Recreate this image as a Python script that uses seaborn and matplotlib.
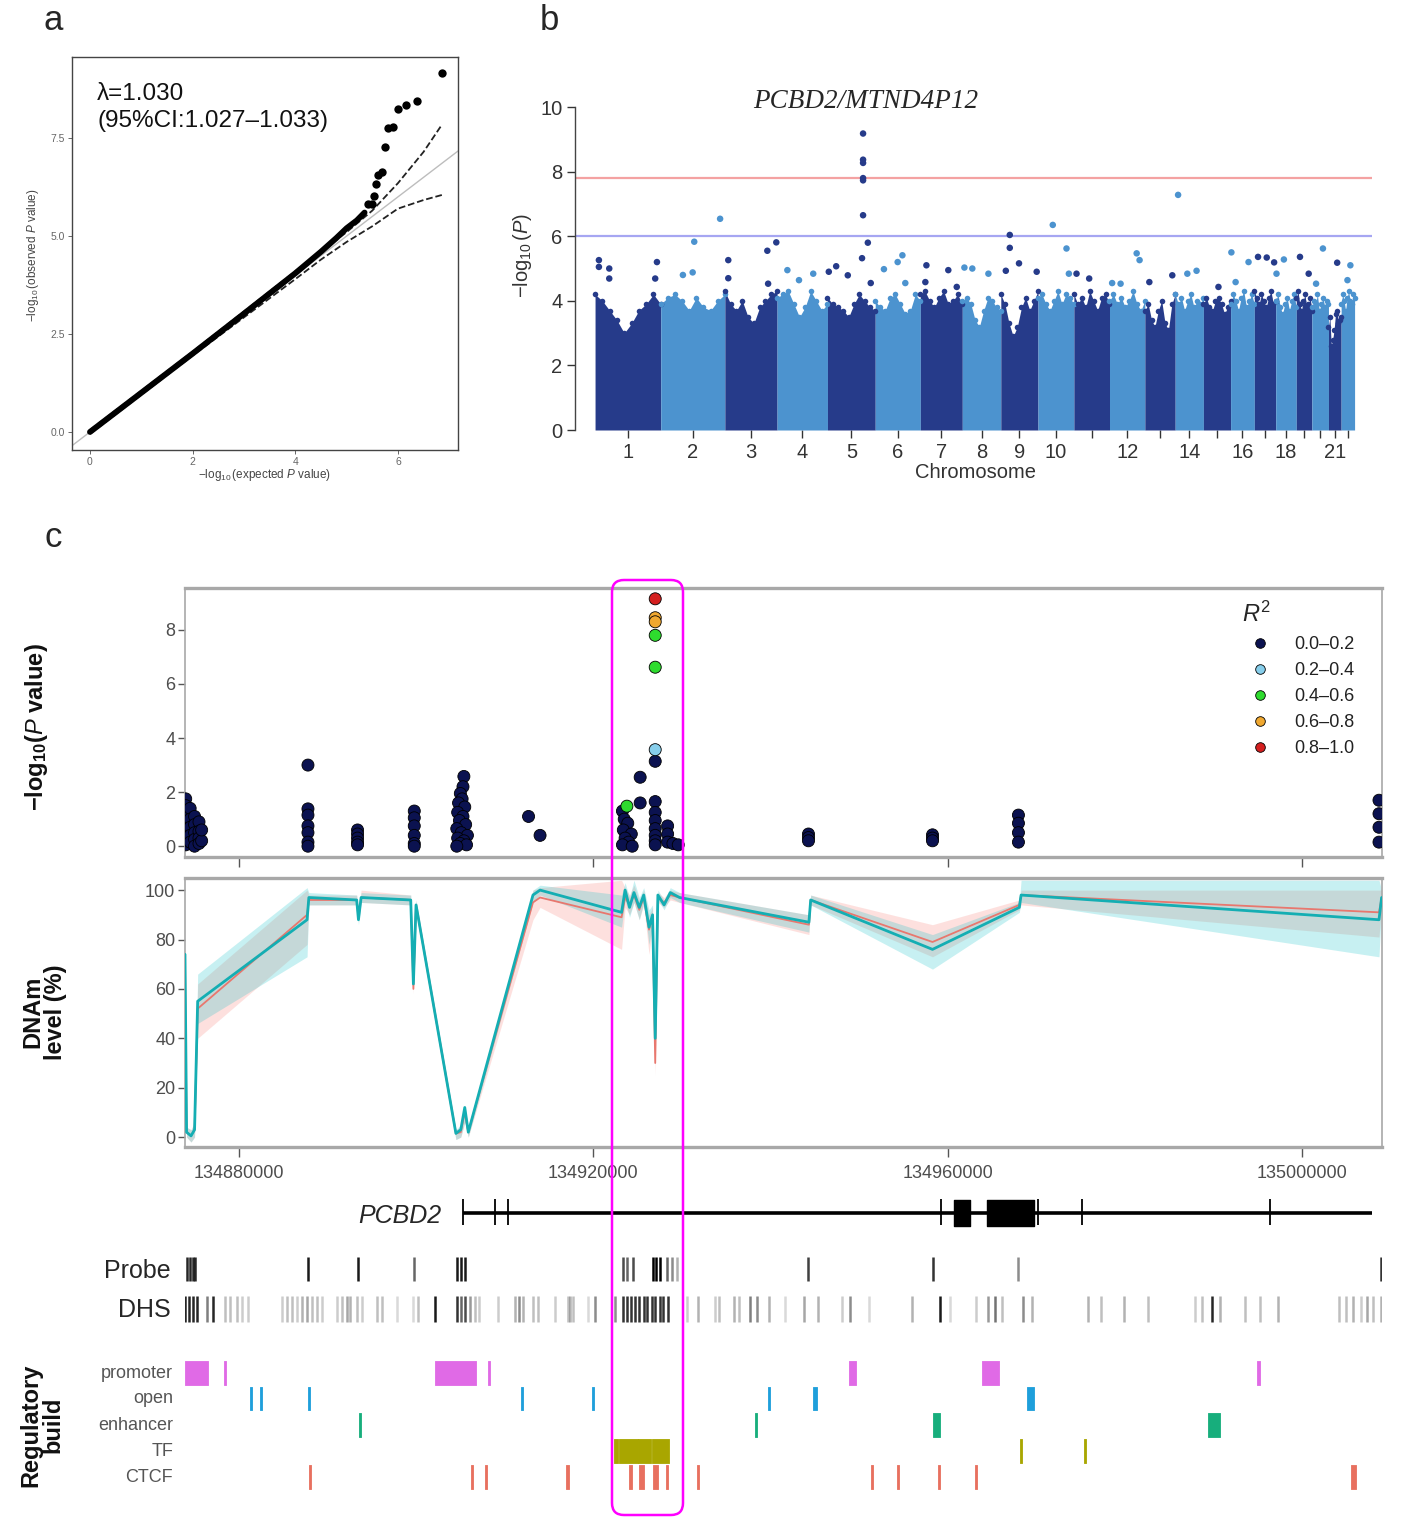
import matplotlib
matplotlib.use("Agg")
import numpy as np
import pandas as pd
import seaborn as sns
import matplotlib.pyplot as plt
from matplotlib.patches import FancyBboxPatch

# ---------------- DATA ----------------
# panel a: QQ plot
qq_body_exp = [0, 1, 2, 3, 4, 4.5, 4.8, 5.0, 5.2, 5.35]
qq_body_obs = [0, 1.0, 2.0, 3.02, 4.05, 4.6, 4.95, 5.2, 5.4, 5.6]
qq_tail_exp = [5.42, 5.49, 5.54, 5.58, 5.62, 5.68, 5.75, 5.81, 5.90, 6.01, 6.16, 6.38, 6.86]
qq_tail_obs = [5.81, 5.82, 6.01, 6.33, 6.55, 6.63, 7.27, 7.76, 7.78, 8.24, 8.35, 8.44, 9.15]
ci_exp = [0, 2, 4, 4.5, 5, 5.5, 6, 6.5, 6.86]
ci_upper = [0.05, 2.05, 4.1, 4.6, 5.1, 5.65, 6.35, 7.15, 7.85]
ci_lower = [-0.05, 1.95, 3.9, 4.4, 4.85, 5.25, 5.7, 5.92, 6.05]
lambda_text = "λ=1.030\n(95%CI:1.027–1.033)"

# panel b: Manhattan
chrom_len_mb = [249, 243, 198, 191, 181, 171, 159, 146, 141, 136, 135, 134,
                115, 107, 103, 90, 81, 78, 59, 63, 48, 51]
chrom_shown = ["1", "2", "3", "4", "5", "6", "7", "8", "9", "10", "", "12",
               "", "14", "", "16", "", "18", "", "", "21", ""]
dense_top_by_chrom = [
    [4.2, 4.0, 3.7, 3.4, 3.0, 3.3, 3.7, 3.9, 4.2, 3.9],
    [3.9, 4.1, 4.2, 4.0, 3.7, 4.1, 3.8, 3.7, 4.0, 4.2],
    [4.3, 3.9, 3.7, 4.0, 3.5, 3.3, 3.8, 4.0, 4.2, 4.3],
    [4.1, 4.2, 4.3, 3.9, 3.5, 3.8, 4.3, 4.0, 3.7, 3.9],
    [4.1, 3.9, 3.8, 3.7, 3.5, 3.9, 4.2, 4.0, 3.8, 3.7],
    [4.0, 3.8, 3.7, 4.1, 4.2, 3.9, 3.6, 3.7, 4.2, 4.0],
    [4.2, 4.3, 4.0, 3.8, 4.1, 4.3, 3.9, 4.0, 4.2, 3.9],
    [4.0, 4.1, 3.9, 3.4, 3.2, 3.7, 4.1, 4.0, 3.8, 3.7],
    [4.2, 3.9, 3.3, 2.9, 3.2, 3.8, 4.1, 3.7, 4.0, 4.3],
    [4.1, 4.2, 3.9, 3.7, 4.0, 4.3, 3.9, 4.2, 4.1, 3.9],
    [4.2, 3.9, 4.1, 3.8, 4.3, 4.0, 3.7, 4.1, 4.2, 3.9],
    [4.0, 4.2, 3.9, 4.1, 3.8, 4.0, 4.3, 3.9, 3.7, 4.0],
    [3.7, 3.9, 3.4, 3.2, 3.7, 4.0, 3.3, 3.1, 3.9, 4.2],
    [4.2, 3.9, 4.1, 3.7, 4.0, 4.2, 3.8, 4.0, 3.9, 4.1],
    [3.9, 4.1, 3.8, 3.7, 4.0, 4.1, 3.9, 3.6, 3.8, 4.0],
    [3.9, 4.2, 4.0, 3.7, 4.1, 4.3, 3.8, 4.0, 4.2, 3.9],
    [4.3, 4.1, 3.9, 4.2, 4.0, 3.8, 4.1, 4.3, 3.9, 4.0],
    [4.0, 4.2, 3.8, 3.6, 3.9, 4.1, 3.7, 4.0, 4.2, 3.8],
    [4.1, 4.3, 3.9, 3.7, 4.0, 4.2, 3.8, 3.9, 4.1, 3.7],
    [3.8, 4.0, 3.9, 4.2, 3.7, 3.9, 4.1, 3.8, 4.0, 3.9],
    [3.2, 3.5, 2.6, 2.8, 3.1, 3.6, 3.7, 3.3, 3.4, 3.5],
    [3.9, 4.2, 4.0, 3.7, 4.1, 4.3, 4.0, 3.9, 4.2, 4.1],
]
peak_chrom = [1, 1, 1, 1, 1, 1, 2, 2, 2, 2, 3, 3, 3, 3, 3, 4, 4, 4,
              5, 5, 5, 5, 5, 5, 5, 5, 5, 5, 5, 5, 6, 6, 6, 6, 7, 7, 7, 7,
              8, 8, 8, 9, 9, 9, 9, 9, 10, 10, 10, 11, 11, 12, 12, 12, 12,
              13, 13, 14, 14, 14, 15, 16, 16, 16, 17, 17, 17, 18, 18, 19, 19,
              20, 20, 21, 22, 22]
peak_pos_mb = [14.6, 14.6, 53.8, 53.8, 234.6, 228, 127, 121, 84, 225, 13, 13, 161, 195, 164,
               39, 83, 137,
               5, 33, 77, 134.9, 134.9, 134.9, 134.9, 134.9, 134.9, 153, 131, 164,
               33, 85, 103, 114, 23, 106, 19, 138,
               8, 38, 99, 34, 34, 69, 19, 136, 56, 108, 117, 10, 58, 103, 114, 42, 10,
               17, 104, 11, 46, 81, 57, 3, 68, 19, 14, 47, 75, 3, 31, 14, 47,
               42, 16, 33, 35, 24]
peak_logp = [5.26, 5.05, 5.0, 4.69, 5.2, 4.69, 5.83, 4.88, 4.8, 6.54, 5.26, 4.7, 5.55, 5.81, 4.53,
             4.95, 4.64, 4.84,
             4.9, 5.07, 4.79, 9.18, 8.37, 8.27, 7.8, 7.73, 6.65, 5.8, 5.32, 4.55,
             4.98, 5.2, 5.41, 4.55, 5.1, 4.95, 4.58, 4.43,
             5.03, 5.0, 4.84, 6.04, 5.64, 5.16, 4.93, 4.9, 6.35, 5.62, 4.84, 4.84, 4.69,
             5.47, 5.26, 4.53, 4.55,
             4.58, 4.79, 7.28, 4.84, 4.93, 4.43, 5.5, 5.2, 4.58, 5.36, 5.34, 5.19, 4.84, 5.28,
             5.36, 4.84, 5.62, 4.53, 5.18, 5.1, 4.64]
genome_wide_line = 7.8
suggestive_line = 6.0

# panel c: locus SNP association (positions in kb on chr5)
snp_kb = [134874.0, 134874.0, 134874.0, 134874.0, 134874.0, 134874.0, 134874.0,
          134874.5, 134874.5, 134874.5, 134874.5, 134874.5,
          134875.0, 134875.0, 134875.0, 134875.0, 134875.0,
          134875.5, 134875.5, 134875.5, 134875.5, 134875.8, 134875.8,
          134887.8, 134887.8, 134887.8, 134887.8, 134887.8, 134887.8, 134887.8,
          134893.4, 134893.4, 134893.4, 134893.4, 134893.4,
          134899.8, 134899.8, 134899.8, 134899.8, 134899.8, 134899.8,
          134905.4, 134905.3, 134905.0, 134905.2, 134904.8, 134905.5, 134904.7, 134905.3,
          134904.9, 134905.6, 134904.6, 134905.1, 134905.8, 134904.7, 134905.4, 134905.0,
          134905.7, 134904.6,
          134912.7, 134914.0,
          134923.8, 134923.3, 134923.5, 134923.9, 134923.4, 134924.3, 134923.6, 134924.0,
          134923.3, 134924.4,
          134925.3, 134925.3,
          134927.0, 134927.0, 134927.0, 134927.0, 134927.0, 134927.0, 134927.0, 134927.0,
          134927.0, 134927.0, 134927.0, 134927.0, 134927.0, 134927.0,
          134928.4, 134928.4, 134928.4, 134929.0, 134929.6,
          134944.3, 134944.3, 134944.3, 134958.3, 134958.3, 134958.3,
          134968.0, 134968.0, 134968.0, 134968.0,
          135008.7, 135008.7, 135008.7, 135008.7]
snp_logp = [1.75, 1.5, 1.2, 0.9, 0.6, 0.3, 0.05,
            1.4, 1.0, 0.7, 0.4, 0.15,
            1.1, 0.8, 0.5, 0.25, 0.0,
            0.9, 0.55, 0.3, 0.1, 0.2, 0.6,
            3.0, 1.38, 1.15, 0.75, 0.5, 0.15, 0.0,
            0.6, 0.45, 0.3, 0.15, 0.05,
            1.3, 1.05, 0.75, 0.4, 0.1, 0.0,
            2.58, 2.2, 1.95, 1.75, 1.6, 1.45, 1.25, 1.1,
            0.95, 0.8, 0.65, 0.5, 0.4, 0.3, 0.2, 0.1,
            0.05, 0.0,
            1.1, 0.4,
            1.48, 1.3, 1.0, 0.85, 0.6, 0.45, 0.3, 0.15,
            0.05, 0.0,
            2.55, 1.6,
            9.15, 8.45, 8.3, 7.8, 6.62, 3.57, 3.14, 1.65,
            1.25, 0.95, 0.65, 0.4, 0.2, 0.05,
            0.75, 0.45, 0.15, 0.1, 0.05,
            0.45, 0.32, 0.2, 0.42, 0.3, 0.2,
            1.15, 0.85, 0.5, 0.15,
            1.7, 1.2, 0.7, 0.15]
snp_r2 = (["0.0–0.2"] * 61
          + ["0.4–0.6"] + ["0.0–0.2"] * 9
          + ["0.0–0.2"] * 2
          + ["0.8–1.0", "0.6–0.8", "0.6–0.8", "0.4–0.6", "0.4–0.6", "0.2–0.4"]
          + ["0.0–0.2"] * 8
          + ["0.0–0.2"] * 5
          + ["0.0–0.2"] * 6
          + ["0.0–0.2"] * 4
          + ["0.0–0.2"] * 4)
r2_levels = ["0.0–0.2", "0.2–0.4", "0.4–0.6", "0.6–0.8", "0.8–1.0"]
r2_colors = ["#0B1250", "#87CEEB", "#2EDB2E", "#F0A830", "#D41F1F"]

# panel c: DNA methylation by group (kb, %)
dnam_kb = [134873.92, 134874.1, 134874.6, 134875.0, 134875.35, 134887.7, 134887.9,
           134893.3, 134893.5, 134893.8, 134899.4, 134899.7, 134900.0, 134904.5,
           134905.05, 134905.5, 134905.9, 134913.2, 134914.0, 134923.2, 134923.6,
           134924.1, 134924.6, 134925.2, 134925.7, 134926.3, 134926.7, 134927.0,
           134927.3, 134928.0, 134928.7, 134929.75, 134944.35, 134944.55, 134958.3,
           134968.1, 134968.3, 135008.7, 135009.0]
teal_mean = [74, 2, 0.5, 3, 55, 88, 97, 96, 88, 97, 96, 62, 94, 1.5, 3, 12, 2, 98, 100,
             91, 100, 93, 99, 93, 98, 85, 90, 40, 98, 94, 99, 97, 87, 96, 76, 93, 98, 88, 97]
teal_lo = [70, 0, -2, 0, 46, 73, 94, 94, 86, 95, 94, 60, 92, -1, 0, 6, 0, 95, 98,
           85, 96, 89, 95, 88, 95, 78, 86, 35, 96, 92, 97, 95, 83, 94, 68, 91, 95, 73, 94]
teal_hi = [77, 4, 3, 6, 66, 101, 99, 98, 91, 99, 98, 65, 96, 3, 5, 13, 4, 100, 102,
           98, 103, 97, 104, 97, 101, 92, 94, 45, 100, 96, 101, 99, 90, 98, 82, 95, 104, 104, 100]
red_mean = [72, 2, 0.5, 3, 52, 90, 96, 96, 89, 97, 96, 60, 94, 1.5, 2, 10, 2, 95, 97,
            89, 97, 94, 98, 92, 97, 84, 89, 30, 97, 95, 98, 97, 86, 96, 79, 94, 98, 91, 97]
red_lo = [70, 0, -2, 0, 40, 78, 94, 94, 87, 95, 94, 58, 92, -1, 0, 6, 0, 88, 93,
          76, 93, 90, 95, 88, 94, 74, 85, 25, 95, 93, 96, 95, 82, 94, 73, 92, 94, 81, 94]
red_hi = [75, 4, 3, 6, 62, 100, 98, 98, 92, 100, 98, 63, 96, 3, 4, 12, 4, 100, 101,
          104, 101, 98, 102, 96, 100, 90, 93, 34, 99, 97, 100, 99, 90, 98, 86, 96, 100, 100, 100]

locus_ticks = [134880000, 134920000, 134960000, 135000000]

# gene model (kb)
gene_span_kb = (134905.25, 135007.9)
exon_lines_kb = [134905.25, 134908.9, 134910.4, 134959.3, 134970.2, 134975.2, 134996.4]
exon_blocks_kb = [(134960.7, 134962.5), (134964.5, 134969.8)]

# probes (kb, shade)
probe_sites = [(134874.1, .85), (134874.5, .85), (134874.8, .85), (134875.1, .85),
               (134887.8, .9), (134893.4, .9), (134899.8, .6), (134904.6, .9),
               (134905.1, .9), (134905.5, .9), (134923.4, .7), (134923.8, .6),
               (134924.5, .7), (134926.8, 1), (134927.1, 1), (134927.5, 1),
               (134928.3, .6), (134928.9, .45), (134929.5, .3), (134944.3, .75),
               (134958.3, .8), (134968.0, .45), (135008.9, .8)]

# DNase hypersensitive sites (kb, shade)
dhs_sites = [(134873.9, .85), (134874.4, .85), (134874.8, .85), (134875.3, .85),
             (134876.4, .5), (134877.1, .85), (134878.4, .25), (134879.0, .25),
             (134879.8, .25), (134880.3, .2), (134881.0, .2), (134884.9, .2),
             (134885.4, .25), (134886.0, .25), (134886.6, .2), (134887.1, .3),
             (134887.7, .35), (134888.2, .25), (134888.8, .25), (134889.4, .2),
             (134891.1, .2), (134891.6, .25), (134892.2, .35), (134892.5, .3),
             (134893.3, .25), (134893.9, .2), (134895.6, .25), (134896.2, .25),
             (134897.9, .15), (134899.7, .15), (134900.2, .25), (134902.1, .9),
             (134904.6, .8), (134905.1, .6), (134905.5, .7), (134906.1, .4),
             (134906.6, .25), (134907.1, .2), (134909.2, .2), (134911.2, .3),
             (134911.6, .45), (134912.1, .3), (134913.2, .25), (134913.8, .25),
             (134915.7, .2), (134917.1, .25), (134917.4, .3), (134917.7, .25),
             (134919.4, .15), (134920.2, .45), (134922.5, .45),
             (134923.4, .8), (134923.8, .8), (134924.3, .8), (134924.7, .8),
             (134925.2, .8), (134925.7, .8), (134926.1, .8), (134926.6, .8),
             (134927.0, .8), (134927.5, .8), (134927.9, .8), (134928.4, .8),
             (134930.6, .2), (134931.8, .3), (134933.8, .2), (134934.2, .25),
             (134935.9, .3), (134936.5, .25), (134937.7, .5), (134938.5, .45),
             (134939.8, .3), (134941.6, .15), (134943.8, .35), (134945.4, .3),
             (134948.1, .2), (134949.0, .45), (134951.1, .15), (134956.0, .3),
             (134959.1, .9), (134960.3, .15), (134963.2, .2), (134964.6, .4),
             (134965.4, .55), (134966.2, .25), (134968.5, .45), (134969.5, .3),
             (134975.8, .3), (134977.3, .25), (134979.9, .3), (134982.6, .25),
             (134987.9, .2), (134988.7, .25), (134989.8, .85), (134990.7, .3),
             (134993.6, .25), (134995.3, .25), (134997.3, .3), (135004.2, .25),
             (135005.0, .25), (135005.8, .3), (135006.7, .2), (135007.4, .35),
             (135008.0, .25), (135008.9, .3)]

# Ensembl regulatory build features (start kb, end kb)
reg_promoter = [(134873.9, 134876.5), (134878.3, 134878.6), (134902.1, 134906.8),
                (134908.1, 134908.4), (134948.9, 134949.7), (134963.9, 134965.8),
                (134994.9, 134995.3)]
reg_open = [(134881.3, 134881.5), (134882.4, 134882.6), (134887.8, 134888.0),
            (134911.9, 134912.1), (134919.9, 134920.1), (134939.7, 134939.9),
            (134944.8, 134945.3), (134969.0, 134969.8)]
reg_enhancer = [(134893.6, 134893.8), (134938.3, 134938.5), (134958.3, 134959.2),
                (134989.4, 134990.7)]
reg_tf = [(134922.4, 134922.8), (134922.9, 134925.0), (134925.1, 134926.5),
          (134926.6, 134928.5), (134968.2, 134968.4), (134975.4, 134975.6)]
reg_ctcf = [(134887.9, 134888.1), (134906.2, 134906.4), (134907.8, 134908.0),
            (134916.9, 134917.3), (134924.0, 134924.4), (134925.2, 134925.7),
            (134926.7, 134927.3), (134928.2, 134928.4), (134931.7, 134931.9),
            (134951.4, 134951.6), (134954.3, 134954.5), (134958.9, 134959.1),
            (134963.1, 134963.3), (135005.5, 135006.1)]
reg_names = ["promoter", "open", "enhancer", "TF", "CTCF"]
reg_colors = ["#E06AE6", "#1E9FDB", "#17AE7C", "#A9A600", "#E8705F"]

# ---------------- STYLE / LAYOUT ----------------
sns.set_theme(style="white")
plt.rcParams["font.family"] = ["Liberation Sans", "DejaVu Sans"]
plt.rcParams["mathtext.fontset"] = "custom"
plt.rcParams["mathtext.rm"] = "Liberation Sans"
plt.rcParams["mathtext.it"] = "Liberation Sans:italic"
plt.rcParams["mathtext.bf"] = "Liberation Sans:bold"

W, H = 1416, 1520
fig = plt.figure(figsize=(W / 100, H / 100), dpi=100)


def fx(px):
    return px / W


def fy(py):
    return 1 - py / H


def add_ax(l, t, r, b):
    return fig.add_axes([fx(l), fy(b), (r - l) / W, (b - t) / H])


def ftext(x, y, s, **kw):
    fig.text(fx(x), fy(y), s, **kw)


# ---------------- panel a ----------------
ax_a = add_ax(72, 57, 458, 450)
ax_a.axline((0, 0), (1, 1), color="#BDBDBD", lw=1.0, zorder=1)
sns.lineplot(x=ci_exp, y=ci_upper, ax=ax_a, color="#222222", lw=1.3,
             linestyle="--", estimator=None, sort=False, zorder=2)
sns.lineplot(x=ci_exp, y=ci_lower, ax=ax_a, color="#222222", lw=1.3,
             linestyle="--", estimator=None, sort=False, zorder=2)
sns.lineplot(x=qq_body_exp, y=qq_body_obs, ax=ax_a, color="black", lw=4.2,
             estimator=None, sort=False, zorder=3)
sns.scatterplot(x=qq_tail_exp, y=qq_tail_obs, ax=ax_a, color="black", s=36,
                edgecolor="black", linewidth=0, zorder=4)
ax_a.set_xlim(-0.35, 7.17)
ax_a.set_ylim(-0.46, 9.57)
ax_a.set_xticks([0, 2, 4, 6])
ax_a.set_yticks([0, 2.5, 5.0, 7.5], labels=["0.0", "2.5", "5.0", "7.5"])
ax_a.tick_params(bottom=True, left=True, length=3, width=0.7, colors="#666666",
                 labelsize=7.5, pad=2)
for sp in ax_a.spines.values():
    sp.set_color("#444444")
    sp.set_linewidth(1.0)
ax_a.set_xlabel("")
ax_a.set_ylabel("")
ax_a.text(0.065, 0.935, lambda_text, transform=ax_a.transAxes, fontsize=17.5,
          va="top", ha="left", linespacing=1.3, color="#111111")
ftext(265, 475, r"$-\log_{10}$(expected $\mathit{P}$ value)", fontsize=8.5,
      color="#444444", ha="center", va="center")
ftext(33, 255, r"$-\log_{10}$(observed $\mathit{P}$ value)", fontsize=8.5,
      color="#444444", ha="center", va="center", rotation=90)

# ---------------- panel b ----------------
ax_b = add_ax(575, 98, 1372, 430)
dark_col, light_col = "#263B8A", "#4C93CF"
starts = np.concatenate([[0], np.cumsum(chrom_len_mb)[:-1]])
centers = starts + np.array(chrom_len_mb) / 2
for i, (st, ln) in enumerate(zip(starts, chrom_len_mb)):
    col = dark_col if i % 2 == 0 else light_col
    xs = np.linspace(st, st + ln, len(dense_top_by_chrom[i]))
    ax_b.fill_between(xs, 0, dense_top_by_chrom[i], color=col, lw=0, zorder=2)
    sns.scatterplot(x=xs, y=dense_top_by_chrom[i], ax=ax_b, color=col, s=16,
                    linewidth=0, zorder=3)
peak_x = [starts[c - 1] + p for c, p in zip(peak_chrom, peak_pos_mb)]
peak_col = [dark_col if c % 2 == 1 else light_col for c in peak_chrom]
sns.scatterplot(x=peak_x, y=peak_logp, ax=ax_b, c=peak_col, s=22, linewidth=0, zorder=4)
ax_b.axhline(genome_wide_line, color="#F4A2A2", lw=1.6, zorder=1)
ax_b.axhline(suggestive_line, color="#A6A6F2", lw=1.6, zorder=1)
ax_b.set_xlim(-76, 2945)
ax_b.set_ylim(0, 10.28)
ax_b.set_yticks([0, 2, 4, 6, 8, 10])
ax_b.set_xticks(centers, labels=chrom_shown)
for s in ["top", "right", "bottom"]:
    ax_b.spines[s].set_visible(False)
ax_b.spines["left"].set_bounds(0, 10)
ax_b.spines["left"].set_color("#444444")
ax_b.spines["left"].set_linewidth(1.0)
ax_b.tick_params(bottom=True, left=True, length=6, width=1, colors="#333333",
                 labelsize=14.5, pad=3)
ax_b.set_xlabel("")
ax_b.set_ylabel("")
ftext(866, 108, "PCBD2/MTND4P12", fontsize=19.5, family="Liberation Serif",
      style="italic", ha="center", va="baseline")
ftext(975, 478, "Chromosome", fontsize=14.5, color="#333333", ha="center", va="baseline")
ftext(522, 255, r"$-\log_{10}(\mathit{P})$", fontsize=14.5, color="#333333",
      ha="center", va="center", rotation=90)

# ---------------- panel c: association ----------------
xmin_bp, xmax_bp = 134873920, 135009040
border = "#A8A8A8"


def style_locus(ax):
    ax.set_xlim(xmin_bp, xmax_bp)
    for s in ["top", "bottom"]:
        ax.spines[s].set_color(border)
        ax.spines[s].set_linewidth(2.4)
    for s in ["left", "right"]:
        ax.spines[s].set_color(border)
        ax.spines[s].set_linewidth(1.2)
    ax.tick_params(bottom=True, left=True, length=5, width=1, colors="#555555",
                   labelsize=13, labelcolor="#4D4D4D", pad=2)
    ax.set_xlabel("")
    ax.set_ylabel("")


ax_c1 = add_ax(185, 588, 1382, 857)
snp_df = pd.DataFrame({"pos": np.array(snp_kb) * 1000, "logp": snp_logp, "R2": snp_r2})
snp_df["order"] = snp_df["R2"].map({k: i for i, k in enumerate(r2_levels)})
snp_df = snp_df.sort_values("order", kind="stable")
sns.scatterplot(data=snp_df, x="pos", y="logp", hue="R2", hue_order=r2_levels,
                palette=dict(zip(r2_levels, r2_colors)), s=75, edgecolor="black",
                linewidth=0.6, ax=ax_c1, zorder=3)
ax_c1.set_ylim(-0.4, 9.55)
ax_c1.set_yticks([0, 2, 4, 6, 8])
ax_c1.set_xticks(locus_ticks)
style_locus(ax_c1)
ax_c1.tick_params(axis="x", labelbottom=False, length=7)
handles, labels = ax_c1.get_legend_handles_labels()
leg = ax_c1.legend(handles, labels, title=r"$\mathit{R}^2$", loc="upper left",
                   bbox_to_anchor=(0.877, 0.975), frameon=False, fontsize=13,
                   title_fontsize=17, labelspacing=0.5, handletextpad=0.9,
                   markerscale=0.8, alignment="left", borderaxespad=0)
for t in leg.get_texts():
    t.set_color("#222222")
ftext(37, 727, r"$\mathbf{-log_{10}(}\mathit{P}\mathbf{\ value)}$", fontsize=17,
      ha="center", va="center", rotation=90, color="#111111")

# ---------------- panel c: DNAm ----------------
ax_c2 = add_ax(185, 878, 1382, 1147)
pos_bp = np.array(dnam_kb) * 1000
ax_c2.fill_between(pos_bp, red_lo, red_hi, color="#F8766D", alpha=0.22, lw=0, zorder=1)
ax_c2.fill_between(pos_bp, teal_lo, teal_hi, color="#00BFC4", alpha=0.22, lw=0, zorder=1)
sns.lineplot(x=pos_bp, y=red_mean, ax=ax_c2, color="#E8776E", lw=1.3,
             estimator=None, sort=False, zorder=2)
sns.lineplot(x=pos_bp, y=teal_mean, ax=ax_c2, color="#14AEB3", lw=2.0,
             estimator=None, sort=False, zorder=3)
ax_c2.set_ylim(-4, 104.9)
ax_c2.set_yticks([0, 20, 40, 60, 80, 100])
ax_c2.set_xticks(locus_ticks, labels=[str(t) for t in locus_ticks])
style_locus(ax_c2)
ax_c2.tick_params(axis="x", length=7, pad=6)
ftext(44, 1012, "DNAm\nlevel (%)", fontsize=17, fontweight="bold", ha="center",
      va="center", rotation=90, linespacing=0.95, color="#111111")

# ---------------- panel c: tracks ----------------
ax_t = add_ax(185, 1190, 1382, 1500)
ax_t.set_xlim(xmin_bp, xmax_bp)
ax_t.set_ylim(1500, 1190)
ax_t.axis("off")

ax_t.hlines(1213, gene_span_kb[0] * 1000, gene_span_kb[1] * 1000, color="black", lw=2.6)
ax_t.vlines(np.array(exon_lines_kb) * 1000, 1199, 1225, color="black", lw=1.3)
ax_t.broken_barh([(s * 1000, (e - s) * 1000) for s, e in exon_blocks_kb], (1200, 26),
                 color="black")

ax_t.vlines([p * 1000 for p, _ in probe_sites], 1257, 1281,
            colors=[(0, 0, 0, a) for _, a in probe_sites], lw=1.8)
ax_t.vlines([p * 1000 for p, _ in dhs_sites], 1296, 1322,
            colors=[(0, 0, 0, a) for _, a in dhs_sites], lw=1.8)

reg_sets = [reg_promoter, reg_open, reg_enhancer, reg_tf, reg_ctcf]
reg_rows = [(1361, 24), (1387, 23), (1413, 24), (1439, 24), (1465, 24)]
for feats, (y0, hh), col in zip(reg_sets, reg_rows, reg_colors):
    ax_t.broken_barh([(s * 1000, (e - s) * 1000) for s, e in feats], (y0, hh),
                     facecolor=col, edgecolor=col, lw=0.6)

ftext(441, 1216, "PCBD2", fontsize=18, style="italic", ha="right", va="center")
ftext(171, 1271, "Probe", fontsize=18, ha="right", va="center")
ftext(171, 1310, "DHS", fontsize=18, ha="right", va="center")
for name, (y0, hh) in zip(reg_names, reg_rows):
    ftext(173, y0 + hh / 2, name, fontsize=13, color="#555555", ha="right", va="center")
ftext(42, 1425, "Regulatory\nbuild", fontsize=17, fontweight="bold", ha="center",
      va="center", rotation=90, linespacing=0.95, color="#111111")

# highlight box
box = FancyBboxPatch((6.12, 0.05), 0.71, 9.35,
                     boxstyle="round,pad=0,rounding_size=0.12",
                     transform=fig.dpi_scale_trans, fill=False,
                     edgecolor="#FF00FF", lw=1.8, zorder=10)
fig.add_artist(box)

# panel letters
ftext(53, 30, "a", fontsize=25, ha="center", va="baseline")
ftext(549, 30, "b", fontsize=25, ha="center", va="baseline")
ftext(53, 547, "c", fontsize=25, ha="center", va="baseline")

fig.savefig("out.png", dpi=100)
